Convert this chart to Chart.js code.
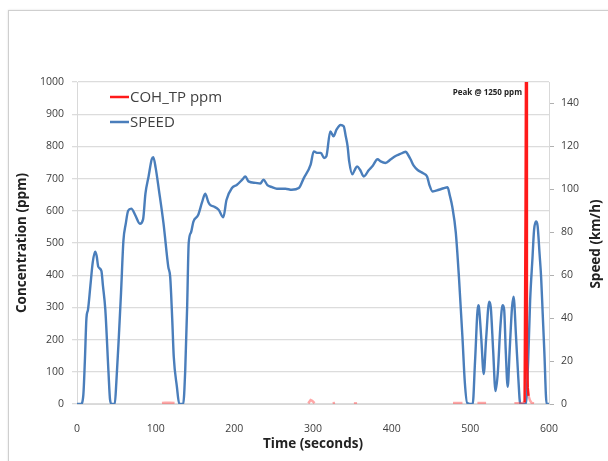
<!DOCTYPE html>
<html>
<head>
<meta charset="utf-8">
<script src="https://cdn.jsdelivr.net/npm/chart.js@4.4.1/dist/chart.umd.min.js"></script>
<style>
  html, body { margin: 0; padding: 0; background: #fff; overflow: hidden; }
  .frame { position: absolute; left: 8px; top: 10px; width: 640px; height: 480px;
           border: 1px solid #cfcfcf; box-shadow: 0 0 2px #e0e0e0; }
  .wrap { position: absolute; left: 0; top: 0; width: 608px; height: 461px; }
</style>
</head>
<body>
<div class="frame"></div>
<div class="wrap"><canvas id="chart"></canvas></div>
<script>
// speed trace (s, km/h)
const speedTime = [0, 5, 8, 10, 12, 14, 17, 20, 23, 25, 27, 31, 33, 36, 40, 42, 44, 48, 50, 53,
  56, 59, 62, 65, 69, 74, 80, 84, 87, 91, 95, 97, 100, 104, 110, 116, 118.5, 121, 123, 127,
  130, 135, 137.6, 140, 142, 145, 148, 154, 159, 163, 167, 170, 174, 180, 186, 190, 197, 203, 210, 214,
  218, 227, 233, 237, 242, 248, 254, 265, 273, 282, 288, 297, 301, 305, 310, 314, 317, 322, 326, 330,
  335, 339, 341.5, 344, 346, 350, 353, 356, 360, 364.5, 371, 376, 382, 386, 392, 399, 405, 409, 414, 418,
  421, 424, 428, 433, 440, 445, 448, 452, 460, 466, 471, 474, 477, 481.5, 485.7, 490, 493, 496, 503, 506,
  510, 511, 514, 517, 520, 524, 526, 529, 532, 535, 538, 541, 543, 545, 547.5, 550, 553, 555, 558, 561,
  563.5, 570.5, 573.5, 576, 579, 581, 583.5, 585.5, 588, 590, 592, 594, 597, 600];
const speedValues = [0, 0, 4, 20, 40, 44, 55, 66, 71, 69, 64, 62, 55, 44, 15, 2, 0, 0, 10, 30,
  52, 76, 84, 90, 91, 88, 84, 86, 98, 106, 114, 115, 110, 100, 84, 64, 59, 40, 22, 8,
  0, 0, 16, 45, 75, 80, 85, 88, 94, 98, 94, 92.5, 92, 90.5, 87, 95, 100.6, 102, 104.5, 106,
  103.7, 103, 102.7, 104.5, 102, 101, 100.3, 100.3, 99.8, 100.6, 105, 111.5, 117.7, 117, 117, 114.6, 115.4, 127, 124.7, 127.9,
  130, 129.4, 125, 120, 113, 107, 109, 110.7, 109, 106, 109, 111, 114, 113, 112.3, 114, 115.5, 116.2, 117, 117.5,
  116, 114, 111, 109, 107.5, 106, 102, 99, 99.8, 100.5, 101, 97, 92, 80, 58, 31, 10, 0.5, 0, 20,
  46, 45, 30, 14, 30, 47.7, 45, 25, 6, 15, 35, 46, 44, 25, 8, 25, 45, 50, 32, 12,
  0, 0, 20, 48, 68, 81, 85, 83, 70, 59, 42, 25, 0, 0];

// COH_TP trace (s, ppm); null = no reading
const cohTime = [108, 112, 118, 124, 125, 294, 297, 299, 302, 303, 325, 328, 329, 352, 356, 357,
  478, 490, 491, 509, 520, 521, 556, 566, 569, 570.2, 571, 571.9, 573, 574, 576, 578, 581];
const cohValues = [3, 4, 4, 3, null, 2, 12, 10, 3, null, 2, 3, null, 2, 2, null,
  3, 3, null, 3, 3, null, 2, 3, 5, 600, 1250, 150, 50, 25, 10, 3, 2];

const xTicks = { min: 0, max: 600, step: 100 };
const concTicks = { min: 0, max: 1000, step: 100 };
const speedTicks = { min: 0, max: 150, step: 20 };

const labelFont = { family: 'Open Sans', size: 10.5 };
const titleFont = { family: 'Open Sans', size: 13.5, weight: 'bold' };

const overlayText = {
    id: 'overlayText',
    afterDraw(chart) {
        const ctx = chart.ctx;
        ctx.save();
        // legend
        const items = chart.data.datasets;
        items.forEach((ds, i) => {
            const y = 97 + i * 25;
            ctx.strokeStyle = ds.borderColor;
            ctx.lineWidth = 2.5;
            ctx.beginPath();
            ctx.moveTo(110, y);
            ctx.lineTo(129, y);
            ctx.stroke();
            ctx.fillStyle = '#404040';
            ctx.font = '15px "Open Sans"';
            ctx.textBaseline = 'middle';
            ctx.textAlign = 'left';
            ctx.fillText(ds.label, 130, y + 1);
        });
        // peak note
        ctx.fillStyle = '#222';
        ctx.font = 'bold 8px "Open Sans"';
        ctx.textAlign = 'right';
        ctx.fillText('Peak @ 1250 ppm', 522, 93);
        // right axis title, reads bottom to top
        ctx.translate(596, 244);
        ctx.rotate(-Math.PI / 2);
        ctx.textAlign = 'center';
        ctx.fillStyle = '#222';
        ctx.font = 'bold 13.5px "Open Sans"';
        ctx.fillText('Speed (km/h)', 0, 0);
        ctx.restore();
    }
};

const ctx = document.getElementById('chart').getContext('2d');
new Chart(ctx, {
    type: 'line',
    data: {
        datasets: [{
            label: 'COH_TP ppm',
            data: cohTime.map((t, i) => ({ x: t, y: cohValues[i] })),
            borderColor: '#ff1a1a',
            borderWidth: 2.5,
            pointRadius: 0,
            tension: 0,
            spanGaps: false,
            yAxisID: 'y',
            segment: {
                borderColor: c => Math.max(c.p0.parsed.y, c.p1.parsed.y) < 30 ? 'rgba(255,60,60,0.45)' : undefined
            }
        }, {
            label: 'SPEED',
            data: speedTime.map((t, i) => ({ x: t, y: speedValues[i] })),
            borderColor: '#4a7ebb',
            borderWidth: 2.4,
            pointRadius: 0,
            cubicInterpolationMode: 'monotone',
            yAxisID: 'y2'
        }]
    },
    options: {
        responsive: true,
        maintainAspectRatio: false,
        animation: false,
        layout: { padding: { top: 82, left: 0, right: 0, bottom: 0 } },
        scales: {
            x: {
                type: 'linear',
                min: xTicks.min, max: xTicks.max,
                afterFit: s => { s.height = 57; },
                ticks: { stepSize: xTicks.step, color: '#404040', font: labelFont, padding: 11, callback: v => String(v) },
                grid: { display: false },
                border: { display: true, color: '#d9d9d9', width: 1 },
                title: { display: true, text: 'Time (seconds)', color: '#222', font: titleFont, padding: { top: 0, bottom: 9 } }
            },
            y: {
                position: 'left',
                min: concTicks.min, max: concTicks.max,
                afterFit: s => { s.width = 77; },
                ticks: { stepSize: concTicks.step, color: '#404040', font: labelFont, padding: 8, callback: v => String(v) },
                grid: { color: '#dcdcdc', lineWidth: 1.3, tickLength: 5 },
                border: { display: true, color: '#d9d9d9', width: 1 },
                title: { display: true, text: 'Concentration (ppm)', color: '#222', font: titleFont, padding: { top: 14, bottom: 0 } }
            },
            y2: {
                position: 'right',
                min: speedTicks.min, max: speedTicks.max,
                afterFit: s => { s.width = 59; },
                ticks: { stepSize: speedTicks.step, includeBounds: false, color: '#404040', font: labelFont, padding: 7 },
                grid: { drawOnChartArea: false, color: '#b0b0b0', tickLength: 5 },
                border: { display: true, color: '#d9d9d9', width: 1 }
            }
        },
        plugins: {
            legend: { display: false },
            tooltip: { enabled: false }
        }
    },
    plugins: [overlayText]
});
</script>
</body>
</html>
